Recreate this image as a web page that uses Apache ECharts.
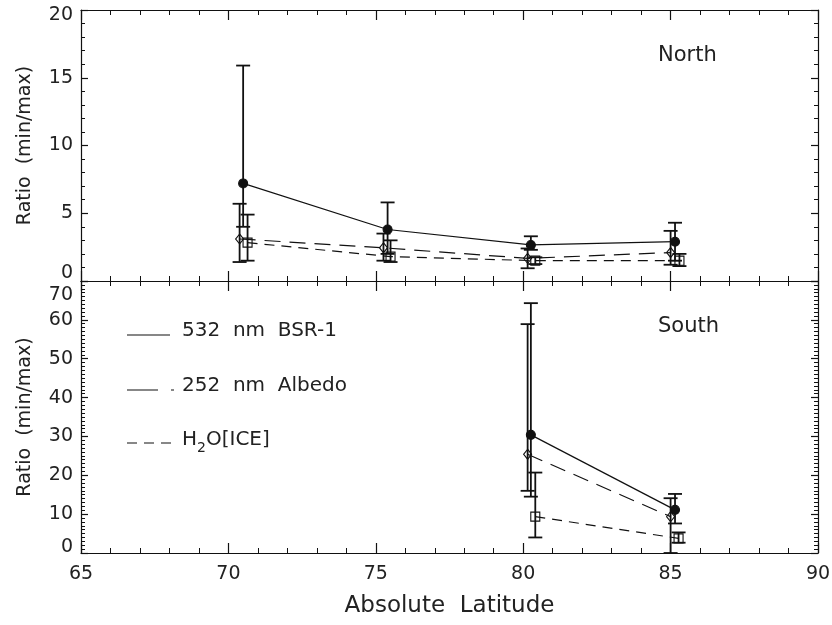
<!DOCTYPE html>
<html>
<head>
<meta charset="utf-8">
<title>Ratio (min/max) vs Absolute Latitude</title>
<script src="https://cdn.jsdelivr.net/npm/echarts@6/dist/echarts.min.js"></script>
<style>
  html, body { margin: 0; padding: 0; background: #fff; }
  #chart { width: 832px; height: 625px; }
</style>
</head>
<body>
<div id="chart"></div>
<script>
// Datos (latitud, valor, extremos de la barra de error)

// --- North ---
const northLatBsr = [70.5, 75.4, 80.26, 85.15];
const northBsr = [7.2, 3.8, 2.66, 2.9];
const northBsrLow = [4.0, 2.0, 2.3, 1.5];
const northBsrHigh = [15.9, 5.8, 3.3, 4.3];

const northLatAlb = [70.38, 75.26, 80.15, 85.0];
const northAlb = [3.1, 2.45, 1.67, 2.1];
const northAlbLow = [1.4, 1.5, 0.94, 1.2];
const northAlbHigh = [5.7, 3.5, 2.4, 3.7];

const northLatIce = [70.65, 75.5, 80.41, 85.3];
const northIce = [2.83, 1.8, 1.5, 1.5];
const northIceLow = [1.5, 1.4, 1.25, 1.1];
const northIceHigh = [4.9, 3.0, 1.75, 2.0];

// --- South ---
const southLatBsr = [80.26, 85.15];
const southBsr = [30.4, 11.1];
const southBsrLow = [14.5, 7.6];
const southBsrHigh = [64.3, 15.2];

const southLatAlb = [80.15, 85.0];
const southAlb = [25.4, 9.35];
const southAlbLow = [16.0, 0];
const southAlbHigh = [58.9, 14.1];

const southLatIce = [80.41, 85.27];
const southIce = [9.35, 3.77];
const southIceLow = [4.0, 2.65];
const southIceHigh = [20.7, 5.3];

// ejes
const xTicks = [65, 70, 75, 80, 85, 90];
const northTicks = [0, 5, 10, 15, 20];
const southTicks = [0, 10, 20, 30, 40, 50, 60, 70];

const FONT = 'DejaVu Sans';
const INK = '#111';
const TXT = '#222';

function puntos(lat, val) {
    return lat.map((x, i) => [x, val[i]]);
}

function barras(lat, low, high) {
    return lat.map((x, i) => [x, low[i], high[i]]);
}

function dibujarBarra(params, api) {
    const x = api.value(0);
    const lo = api.coord([x, api.value(1)]);
    const hi = api.coord([x, api.value(2)]);
    const half = 7;
    const style = { stroke: INK, lineWidth: 1.8 };
    return {
        type: 'group',
        children: [
            { type: 'line', shape: { x1: lo[0], y1: lo[1], x2: hi[0], y2: hi[1] }, style: style },
            { type: 'line', shape: { x1: hi[0] - half, y1: hi[1], x2: hi[0] + half, y2: hi[1] }, style: style },
            { type: 'line', shape: { x1: lo[0] - half, y1: lo[1], x2: lo[0] + half, y2: lo[1] }, style: style }
        ]
    };
}

function serieLinea(panel, data, tipo) {
    const estilos = {
        bsr: { symbol: 'circle', size: 9, fill: INK, dash: 'solid' },
        alb: { symbol: 'diamond', size: [8, 10], fill: 'rgba(0,0,0,0)', dash: [16, 9] },
        ice: { symbol: 'rect', size: 9, fill: 'rgba(0,0,0,0)', dash: [10, 7] }
    };
    const e = estilos[tipo];
    return {
        type: 'line',
        xAxisIndex: panel * 2,
        yAxisIndex: panel * 2,
        data: data,
        symbol: e.symbol,
        symbolSize: e.size,
        showSymbol: true,
        lineStyle: { color: INK, width: 1.2, type: e.dash },
        itemStyle: { color: e.fill, borderColor: INK, borderWidth: 1.1 },
        z: 3
    };
}

function serieBarra(panel, data) {
    return {
        type: 'custom',
        xAxisIndex: panel * 2,
        yAxisIndex: panel * 2,
        data: data,
        encode: { x: 0, y: [1, 2] },
        renderItem: dibujarBarra,
        z: 2
    };
}

function ejeX(grid, pos, conEtiquetas) {
    return {
        type: 'value',
        gridIndex: grid,
        position: pos,
        min: xTicks[0],
        max: xTicks[xTicks.length - 1],
        interval: 5,
        axisLine: { show: true, onZero: false, lineStyle: { color: INK, width: 1.2 } },
        axisTick: { show: true, inside: true, length: 10, lineStyle: { color: INK, width: 1.2 } },
        minorTick: { show: true, splitNumber: 5, length: 5, lineStyle: { color: INK, width: 1 } },
        splitLine: { show: false },
        axisLabel: {
            show: conEtiquetas,
            margin: 12,
            color: TXT,
            fontFamily: FONT,
            fontSize: 19
        }
    };
}

function ejeY(grid, pos, ticks, minor, conEtiquetas, padTop, padBottom) {
    const max = ticks[ticks.length - 1];
    const min = ticks[0];
    const eje = {
        type: 'value',
        gridIndex: grid,
        position: pos,
        min: min,
        max: max,
        interval: ticks[1] - ticks[0],
        axisLine: { show: true, onZero: false, lineStyle: { color: INK, width: 1.2 } },
        axisTick: { show: true, inside: true, length: 7, lineStyle: { color: INK, width: 1.2 } },
        minorTick: { show: true, splitNumber: minor, length: 4, lineStyle: { color: INK, width: 1 } },
        splitLine: { show: false },
        axisLabel: {
            show: conEtiquetas,
            margin: 8,
            color: TXT,
            fontFamily: FONT,
            fontSize: 19,
            // las etiquetas de los extremos se meten hacia dentro, como en el original
            formatter: v => v === max ? '{t|' + v + '}' : (v === min ? '{b|' + v + '}' : String(v)),
            rich: {
                t: { fontFamily: FONT, fontSize: 19, color: TXT, padding: [padTop, 0, 0, 0] },
                b: { fontFamily: FONT, fontSize: 19, color: TXT, padding: [0, 0, padBottom, 0] }
            }
        }
    };
    if (conEtiquetas) {
        eje.name = 'Ratio  (min/max)';
        eje.nameLocation = 'middle';
        eje.nameGap = 46;
        eje.nameTextStyle = { color: TXT, fontFamily: FONT, fontSize: 19 };
    }
    return eje;
}

const chart = echarts.init(document.getElementById('chart'), null, { renderer: 'canvas' });

const ejesX = [
    ejeX(0, 'bottom', false),
    ejeX(0, 'top', false),
    ejeX(1, 'bottom', true),
    ejeX(1, 'top', false)
];
ejesX[2].name = 'Absolute  Latitude';
ejesX[2].nameLocation = 'middle';
ejesX[2].nameGap = 42;
ejesX[2].nameTextStyle = { color: TXT, fontFamily: FONT, fontSize: 23 };

const option = {
    animation: false,
    backgroundColor: '#fff',
    grid: [
        { left: 81, right: 14, top: 10, height: 271, containLabel: false, outerBoundsMode: 'none' },
        { left: 81, right: 14, top: 281, height: 272, containLabel: false, outerBoundsMode: 'none' }
    ],
    xAxis: ejesX,
    yAxis: [
        ejeY(0, 'left', northTicks, 5, true, 10, 16),
        ejeY(0, 'right', northTicks, 5, false, 0, 0),
        ejeY(1, 'left', southTicks, 10, true, 28, 12),
        ejeY(1, 'right', southTicks, 10, false, 0, 0)
    ],
    series: [
        serieBarra(0, barras(northLatBsr, northBsrLow, northBsrHigh)),
        serieBarra(0, barras(northLatAlb, northAlbLow, northAlbHigh)),
        serieBarra(0, barras(northLatIce, northIceLow, northIceHigh)),
        serieLinea(0, puntos(northLatBsr, northBsr), 'bsr'),
        serieLinea(0, puntos(northLatAlb, northAlb), 'alb'),
        serieLinea(0, puntos(northLatIce, northIce), 'ice'),

        serieBarra(1, barras(southLatBsr, southBsrLow, southBsrHigh)),
        serieBarra(1, barras(southLatAlb, southAlbLow, southAlbHigh)),
        serieBarra(1, barras(southLatIce, southIceLow, southIceHigh)),
        serieLinea(1, puntos(southLatBsr, southBsr), 'bsr'),
        serieLinea(1, puntos(southLatAlb, southAlb), 'alb'),
        serieLinea(1, puntos(southLatIce, southIce), 'ice')
    ],
    graphic: [
        { type: 'text', left: 658, top: 45, style: { text: 'North', fontFamily: FONT, fontSize: 21, fill: TXT } },
        { type: 'text', left: 658, top: 316, style: { text: 'South', fontFamily: FONT, fontSize: 21, fill: TXT } },

        // leyenda
        { type: 'line', shape: { x1: 127, y1: 335, x2: 170, y2: 335 }, style: { stroke: INK, lineWidth: 1.2 } },
        { type: 'text', x: 182, y: 331, style: { text: '532  nm  BSR-1', fontFamily: FONT, fontSize: 20, fill: TXT, verticalAlign: 'middle' } },

        { type: 'line', shape: { x1: 127, y1: 390, x2: 174, y2: 390 }, style: { stroke: INK, lineWidth: 1.2, lineDash: [31, 13] } },
        { type: 'text', x: 182, y: 386, style: { text: '252  nm  Albedo', fontFamily: FONT, fontSize: 20, fill: TXT, verticalAlign: 'middle' } },

        { type: 'line', shape: { x1: 127, y1: 443, x2: 172, y2: 443 }, style: { stroke: INK, lineWidth: 1.2, lineDash: [10, 7] } },
        {
            type: 'text', x: 182, y: 440,
            style: {
                text: '{a|H}{s|2}{a|O[ICE]}',
                verticalAlign: 'middle',
                rich: {
                    a: { fontFamily: FONT, fontSize: 20, fill: TXT, lineHeight: 30, verticalAlign: 'middle' },
                    s: { fontFamily: FONT, fontSize: 14, fill: TXT, lineHeight: 14, verticalAlign: 'bottom' }
                }
            }
        }
    ]
};

chart.setOption(option);
</script>
</body>
</html>
